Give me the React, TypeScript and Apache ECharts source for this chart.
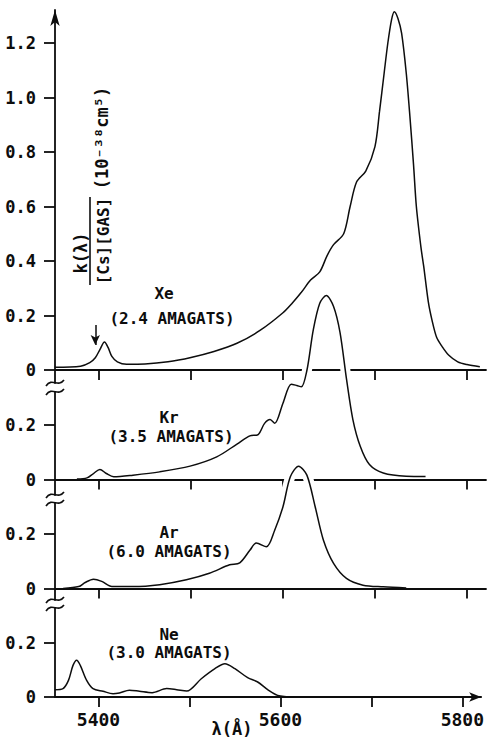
import React, { useEffect, useRef } from "react";
import * as echarts from "echarts";

// ---- data ----
const xeLambda = [5352, 5380, 5390, 5396, 5401, 5406, 5410, 5414, 5420, 5430, 5450, 5475, 5500, 5525, 5550, 5575, 5600, 5610, 5620, 5630, 5640, 5648, 5655, 5666, 5673, 5680, 5690, 5700, 5705, 5710, 5714, 5718, 5721, 5725, 5729, 5734, 5738, 5742, 5745, 5750, 5753, 5758, 5762, 5767, 5773, 5780, 5790, 5800, 5814];
const xeK = [0.010, 0.014, 0.027, 0.045, 0.075, 0.103, 0.082, 0.050, 0.030, 0.021, 0.022, 0.030, 0.046, 0.068, 0.098, 0.145, 0.21, 0.245, 0.285, 0.33, 0.36, 0.42, 0.46, 0.50, 0.60, 0.69, 0.73, 0.82, 0.95, 1.09, 1.20, 1.285, 1.315, 1.29, 1.235, 1.09, 0.93, 0.75, 0.60, 0.45, 0.38, 0.25, 0.183, 0.12, 0.086, 0.055, 0.03, 0.02, 0.012];

const krLambda = [5376, 5387, 5394, 5401, 5408, 5416, 5437, 5466, 5499, 5528, 5550, 5564, 5573, 5580, 5586, 5591, 5600, 5609, 5615, 5620, 5626, 5633, 5640, 5647, 5655, 5662, 5669, 5676, 5684, 5694, 5709, 5734, 5755];
const krK = [0.002, 0.006, 0.022, 0.037, 0.022, 0.010, 0.016, 0.028, 0.049, 0.083, 0.13, 0.16, 0.165, 0.206, 0.22, 0.206, 0.28, 0.35, 0.345, 0.34, 0.40, 0.55, 0.647, 0.675, 0.635, 0.54, 0.37, 0.22, 0.122, 0.055, 0.024, 0.012, 0.011];

const arLambda = [5361, 5378, 5385, 5394, 5403, 5414, 5437, 5466, 5495, 5520, 5542, 5553, 5564, 5571, 5582, 5591, 5600, 5608, 5617, 5626, 5635, 5644, 5655, 5669, 5687, 5709, 5734];
const arK = [0.0, 0.007, 0.022, 0.034, 0.026, 0.007, 0.007, 0.014, 0.032, 0.056, 0.087, 0.094, 0.14, 0.167, 0.153, 0.214, 0.30, 0.41, 0.449, 0.416, 0.30, 0.177, 0.092, 0.037, 0.012, 0.006, 0.002];

const neLambda = [5352, 5361, 5367, 5372, 5376, 5380, 5387, 5394, 5405, 5416, 5423, 5434, 5445, 5459, 5475, 5486, 5497, 5513, 5528, 5539, 5550, 5564, 5575, 5586, 5597, 5615];
const neK = [0.027, 0.031, 0.061, 0.116, 0.135, 0.116, 0.061, 0.031, 0.021, 0.012, 0.015, 0.025, 0.021, 0.016, 0.031, 0.027, 0.022, 0.067, 0.104, 0.122, 0.104, 0.071, 0.055, 0.027, 0.006, 0.0];

const gasNames = ["Xe", "Kr", "Ar", "Ne"];
const gasDensities = ["(2.4 AMAGATS)", "(3.5 AMAGATS)", "(6.0 AMAGATS)", "(3.0 AMAGATS)"];
const xTickValues = [5400, 5500, 5600, 5700, 5800];
const xLabelValues = [5400, 5600, 5800];
const yTicksXe = [0, 0.2, 0.4, 0.6, 0.8, 1.0, 1.2];
const yTicksSmall = [0, 0.2];
const markerLambda = 5396;
const markerFrom = 0.165;
const markerTo = 0.092;

// ---- layout ----
const INK = "#0d0d0d";
const FONT = "DejaVu Sans Mono";
const WEIGHT = "bold";
const PX_PER_UNIT = 272.5;
const LEFT = 55;
const WIDTH = 431;
const X_MIN = 5352.2;
const X_MAX = 5820.7;
const panels = [
  { top: 10, base: 370, bottom: 383, label: [164, 293], sub: [172, 318] },
  { top: 392, base: 479.5, bottom: 495, label: [169, 417], sub: [171, 436] },
  { top: 503, base: 588.5, bottom: 600, label: [169, 532], sub: [169, 551] },
  { top: 608, base: 697, bottom: 697, label: [169, 634], sub: [169, 652] },
];
const breaks = [383, 392, 495, 503, 600, 608];

const zip = (a: number[], b: number[]) => a.map((v, i) => [v, b[i]]);

export default function App() {
  const ref = useRef<HTMLDivElement>(null);
  useEffect(() => {
    if (!ref.current) return;
    const chart = echarts.init(ref.current, undefined, { renderer: "svg" });
    const seriesData = [zip(xeLambda, xeK), zip(krLambda, krK), zip(arLambda, arK), zip(neLambda, neK)];

    const grids = panels.map((p) => ({ left: LEFT, width: WIDTH, top: p.top, height: p.bottom - p.top }));
    const xAxes = panels.map((p, i) => ({
      type: "value",
      gridIndex: i,
      min: X_MIN,
      max: X_MAX,
      splitLine: { show: false },
      axisLine: {
        show: true,
        onZero: true,
        lineStyle: { color: INK, width: 1.8 },
        symbol: i === 3 ? ["none", "arrow"] : ["none", "none"],
        symbolSize: [7, 12],
      },
      axisTick: { show: true, inside: false, length: 10, customValues: xTickValues, lineStyle: { color: INK, width: 1.8 } },
      axisLabel: {
        show: i === 3,
        customValues: xLabelValues,
        margin: 13,
        color: INK,
        fontFamily: FONT,
        fontWeight: WEIGHT,
        fontSize: 18,
        formatter: (v: number) => String(Math.round(v)),
      },
    }));
    const yAxes = panels.map((p, i) => ({
      type: "value",
      gridIndex: i,
      min: -(p.bottom - p.base) / PX_PER_UNIT,
      max: (p.base - p.top) / PX_PER_UNIT,
      splitLine: { show: false },
      axisLine: {
        show: true,
        onZero: false,
        lineStyle: { color: INK, width: 1.8 },
        symbol: i === 0 ? ["none", "arrow"] : ["none", "none"],
        symbolSize: [7, 16],
      },
      axisTick: { show: true, inside: false, length: 11, customValues: i === 0 ? yTicksXe : yTicksSmall, lineStyle: { color: INK, width: 1.8 } },
      axisLabel: {
        show: true,
        customValues: i === 0 ? yTicksXe : yTicksSmall,
        margin: 19,
        color: INK,
        fontFamily: FONT,
        fontWeight: WEIGHT,
        fontSize: 17,
        formatter: (v: number) => (Math.abs(v) < 1e-9 ? "0" : v.toFixed(1)),
      },
    }));

    const baseLine = { color: INK, width: 1.5 };
    const series: any[] = seriesData.map((d, i) => ({
      type: "line",
      xAxisIndex: i,
      yAxisIndex: i,
      data: d,
      symbol: "none",
      showSymbol: false,
      smooth: 0.3,
      clip: false,
      silent: true,
      z: i === 0 ? 6 : 5,
      lineStyle: baseLine,
      markLine:
        i === 0
          ? {
              silent: true,
              symbol: ["none", "arrow"],
              symbolSize: [7, 10],
              label: { show: false },
              lineStyle: { color: INK, width: 1.5, type: "solid" },
              data: [[{ coord: [markerLambda, markerFrom] }, { coord: [markerLambda, markerTo] }]],
            }
          : undefined,
    }));
    // white halos where the Kr and Ar peaks cross the baseline of the panel above
    const haloSrc = [
      { idx: 1, lam: krLambda, k: krK, thr: 0.33 },
      { idx: 2, lam: arLambda, k: arK, thr: 0.3 },
    ];
    haloSrc.forEach((h) => {
      const d = zip(h.lam, h.k).filter((pt) => pt[1] >= h.thr);
      series.push({
        type: "line",
        xAxisIndex: h.idx,
        yAxisIndex: h.idx,
        data: d,
        symbol: "none",
        smooth: 0.3,
        clip: false,
        silent: true,
        z: 3,
        lineStyle: { color: "#ffffff", width: 10 },
      });
    });

    const txt = (size: number) => ({ fontFamily: FONT, fontWeight: WEIGHT, fontSize: size, fill: INK, align: "center", verticalAlign: "middle" });
    const graphics: any[] = [];
    panels.forEach((p, i) => {
      graphics.push({ type: "text", x: p.label[0], y: p.label[1], style: { text: gasNames[i], ...txt(16) } });
      graphics.push({ type: "text", x: p.sub[0], y: p.sub[1], style: { text: gasDensities[i], ...txt(16) } });
    });
    breaks.forEach((y) => {
      graphics.push({
        type: "bezierCurve",
        shape: { x1: LEFT - 9, y1: y + 3, cpx1: LEFT - 3, cpy1: y - 6, cpx2: LEFT + 3, cpy2: y + 5, x2: LEFT + 9, y2: y - 3 },
        style: { stroke: INK, lineWidth: 1.6, fill: "none" },
      });
    });
    // y-axis title (rotated)
    graphics.push({ type: "text", x: 81, y: 253, rotation: Math.PI / 2, style: { text: "k(λ)", ...txt(17) } });
    graphics.push({ type: "line", shape: { x1: 90, y1: 197, x2: 90, y2: 285 }, style: { stroke: INK, lineWidth: 1.6 } });
    graphics.push({ type: "text", x: 103, y: 241, rotation: Math.PI / 2, style: { text: "[Cs][GAS]", ...txt(16) } });
    graphics.push({ type: "text", x: 102, y: 138, rotation: Math.PI / 2, style: { text: "(10⁻³⁸cm⁵)", ...txt(17) } });
    graphics.push({ type: "text", x: 232, y: 729, style: { text: "λ(Å)", ...txt(17) } });

    chart.setOption({
      animation: false,
      backgroundColor: "#ffffff",
      grid: grids,
      xAxis: xAxes,
      yAxis: yAxes,
      series,
      graphic: graphics,
    });
    return () => chart.dispose();
  }, []);
  return <div ref={ref} style={{ position: "absolute", left: 0, top: 0, width: 487, height: 740 }} />;
}
